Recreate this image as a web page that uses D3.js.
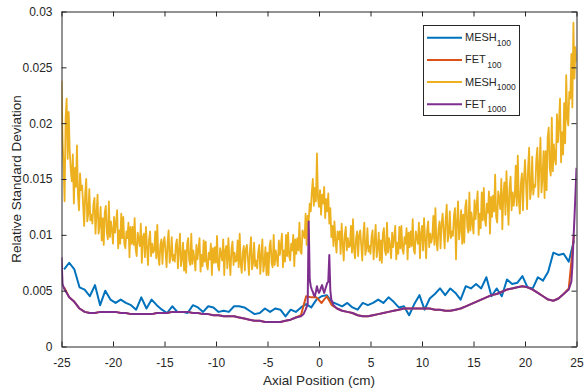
<!DOCTYPE html>
<html><head><meta charset="utf-8">
<script src="https://cdn.jsdelivr.net/npm/d3@7"></script>
<style>
body{margin:0;background:#fff}
svg{display:block}
text{font-family:"Liberation Sans",Arial,sans-serif;fill:#262626}
</style>
</head><body>
<svg id="c" width="584" height="392"></svg>
<script>
// ---- data ----
const xTicks = [-25,-20,-15,-10,-5,0,5,10,15,20,25];
const xTickLabels = ["-25","-20","-15","-10","-5","0","5","10","15","20","25"];
const yTicks = [0,0.005,0.01,0.015,0.02,0.025,0.03];
const yTickLabels = ["0","0.005","0.01","0.015","0.02","0.025","0.03"];
const seriesNames = ["MESH","FET","MESH","FET"];
const seriesSubs = ["100","100","1000","1000"];
const seriesColors = ["#0072BD","#D95319","#EDB120","#7E2F8E"];

// 100-cell grids (cell centres)
const grid100Start = -24.75, grid100Step = 0.5;
const mesh100 = [0.0069,0.0075,0.0069,0.0053,0.0051,0.0045,0.0055,0.0037,0.0050,0.0042,
0.0039,0.0042,0.0039,0.0037,0.0033,0.0044,0.0034,0.0042,0.0037,0.0033,
0.0030,0.0036,0.0031,0.0031,0.0030,0.0037,0.0035,0.0031,0.0036,0.0035,
0.0031,0.0032,0.0031,0.0036,0.0036,0.0035,0.0032,0.0029,0.0030,0.0034,
0.0031,0.0034,0.0033,0.0027,0.0033,0.0031,0.0035,0.0038,0.0035,0.0042,
0.0045,0.0046,0.0040,0.0038,0.0036,0.0039,0.0035,0.0033,0.0039,0.0037,
0.0039,0.0042,0.0039,0.0044,0.0040,0.0035,0.0036,0.0028,0.0038,0.0046,
0.0033,0.0043,0.0047,0.0052,0.0046,0.0052,0.0048,0.0042,0.0054,0.0052,
0.0056,0.0052,0.0062,0.0045,0.0052,0.0045,0.0060,0.0056,0.0057,0.0063,
0.0053,0.0052,0.0062,0.0059,0.0067,0.0084,0.0082,0.0083,0.0076,0.0095];
const fet100 = [0.0053,
0.0044,0.0040,0.0034,0.0031,0.0030,0.0030,0.0031,0.0031,0.0031,0.0031,
0.0030,0.0030,0.0029,0.0029,0.0029,0.0029,0.0029,0.0030,0.0030,0.0030,
0.0031,0.0031,0.0031,0.0031,0.0030,0.0030,0.0029,0.0029,0.0028,0.0028,
0.0027,0.0027,0.0027,0.0026,0.0025,0.0024,0.0023,0.0023,0.0022,0.0022,
0.0022,0.0022,0.0023,0.0024,0.0026,
0.0028,0.0045,0.0044,0.0044,0.0039,0.0045,0.0037,0.0034,
0.0032,0.0031,0.0030,0.0028,0.0027,0.0027,0.0028,0.0029,0.0030,0.0031,
0.0032,0.0033,0.0034,0.0034,0.0034,0.0034,0.0034,0.0034,0.0033,0.0033,
0.0032,0.0032,0.0033,0.0034,0.0036,0.0038,0.0040,0.0042,0.0044,0.0046,
0.0047,0.0049,0.0051,0.0052,0.0053,0.0054,0.0053,0.0051,0.0048,0.0045,
0.0042,0.0041,0.0043,0.0047,
0.0052,0.0099];

const mesh1000Start = -25, mesh1000Step = 0.1;
const mesh1000 = [
0.0238,0.0185,0.0162,0.0130,0.0205,0.0222,0.0168,0.0210,0.0175,0.0158,
0.0148,0.0172,0.0128,0.0160,0.0143,0.0180,0.0135,0.0122,0.0155,0.0140,
0.0144,0.0127,0.0108,0.0137,0.0150,0.0112,0.0119,0.0141,0.0113,0.0118,
0.0110,0.0127,0.0133,0.0101,0.0119,0.0136,0.0101,0.0109,0.0125,0.0095,
0.0115,0.0091,0.0120,0.0126,0.0102,0.0096,0.0130,0.0098,0.0112,0.0104,
0.0092,0.0116,0.0102,0.0111,0.0122,0.0088,0.0104,0.0092,0.0119,0.0097,
0.0116,0.0092,0.0088,0.0103,0.0097,0.0111,0.0080,0.0107,0.0092,0.0107,
0.0091,0.0115,0.0087,0.0081,0.0102,0.0096,0.0090,0.0110,0.0075,0.0098,
0.0101,0.0080,0.0107,0.0089,0.0073,0.0096,0.0103,0.0081,0.0092,0.0084,
0.0086,0.0103,0.0079,0.0109,0.0081,0.0073,0.0091,0.0096,0.0074,0.0093,
0.0098,0.0085,0.0071,0.0093,0.0104,0.0075,0.0081,0.0098,0.0077,0.0082,
0.0076,0.0091,0.0096,0.0070,0.0086,0.0101,0.0072,0.0079,0.0093,0.0068,
0.0086,0.0066,0.0092,0.0097,0.0077,0.0073,0.0101,0.0074,0.0086,0.0079,
0.0068,0.0091,0.0078,0.0087,0.0097,0.0067,0.0082,0.0072,0.0095,0.0076,
0.0094,0.0073,0.0069,0.0084,0.0078,0.0092,0.0064,0.0088,0.0075,0.0089,
0.0075,0.0099,0.0072,0.0068,0.0088,0.0083,0.0077,0.0096,0.0064,0.0086,
0.0090,0.0070,0.0097,0.0079,0.0064,0.0087,0.0094,0.0073,0.0084,0.0076,
0.0077,0.0095,0.0071,0.0101,0.0074,0.0066,0.0084,0.0090,0.0068,0.0087,
0.0091,0.0078,0.0064,0.0087,0.0098,0.0069,0.0075,0.0093,0.0072,0.0077,
0.0070,0.0085,0.0091,0.0065,0.0081,0.0096,0.0067,0.0075,0.0089,0.0064,
0.0084,0.0064,0.0090,0.0095,0.0075,0.0071,0.0100,0.0073,0.0086,0.0079,
0.0072,0.0095,0.0082,0.0091,0.0101,0.0071,0.0086,0.0076,0.0100,0.0081,
0.0102,0.0081,0.0077,0.0092,0.0086,0.0100,0.0072,0.0096,0.0083,0.0097,
0.0086,0.0111,0.0085,0.0083,0.0104,0.0101,0.0097,0.0119,0.0091,0.0117,
0.0112,0.0128,0.0121,0.0138,0.0150,0.0126,0.0142,0.0130,0.0173,0.0133,
0.0125,0.0140,0.0118,0.0136,0.0128,0.0143,0.0115,0.0132,0.0121,0.0137,
0.0110,0.0124,0.0098,0.0108,0.0090,0.0112,0.0095,0.0084,0.0103,0.0096,
0.0103,0.0083,0.0110,0.0092,0.0077,0.0100,0.0107,0.0086,0.0097,0.0089,
0.0090,0.0108,0.0084,0.0114,0.0087,0.0079,0.0097,0.0103,0.0081,0.0100,
0.0104,0.0091,0.0077,0.0100,0.0111,0.0082,0.0088,0.0106,0.0085,0.0090,
0.0083,0.0098,0.0104,0.0078,0.0094,0.0109,0.0080,0.0088,0.0102,0.0077,
0.0095,0.0075,0.0101,0.0106,0.0086,0.0082,0.0111,0.0084,0.0097,0.0090,
0.0079,0.0102,0.0089,0.0098,0.0108,0.0078,0.0093,0.0083,0.0107,0.0088,
0.0108,0.0087,0.0083,0.0098,0.0092,0.0106,0.0078,0.0102,0.0089,0.0103,
0.0090,0.0114,0.0087,0.0083,0.0103,0.0098,0.0092,0.0111,0.0079,0.0101,
0.0108,0.0086,0.0115,0.0096,0.0079,0.0104,0.0112,0.0089,0.0101,0.0093,
0.0098,0.0117,0.0091,0.0124,0.0094,0.0086,0.0105,0.0112,0.0088,0.0109,
0.0119,0.0104,0.0088,0.0114,0.0127,0.0094,0.0101,0.0121,0.0097,0.0103,
0.0099,0.0117,0.0124,0.0078,0.0112,0.0130,0.0096,0.0105,0.0122,0.0092,
0.0118,0.0093,0.0125,0.0131,0.0107,0.0102,0.0138,0.0104,0.0120,0.0111,
0.0101,0.0131,0.0114,0.0126,0.0139,0.0100,0.0119,0.0106,0.0138,0.0113,
0.0142,0.0114,0.0108,0.0128,0.0120,0.0139,0.0101,0.0134,0.0116,0.0135,
0.0121,0.0154,0.0116,0.0111,0.0139,0.0132,0.0123,0.0150,0.0105,0.0136,
0.0147,0.0118,0.0157,0.0131,0.0109,0.0142,0.0152,0.0122,0.0138,0.0126,
0.0135,0.0162,0.0126,0.0171,0.0131,0.0119,0.0146,0.0155,0.0122,0.0150,
0.0167,0.0146,0.0123,0.0160,0.0178,0.0132,0.0141,0.0170,0.0136,0.0145,
0.0143,0.0168,0.0178,0.0134,0.0161,0.0187,0.0138,0.0151,0.0175,0.0133,
0.0175,0.0140,0.0187,0.0196,0.0160,0.0153,0.0205,0.0157,0.0181,0.0168,
0.0163,0.0208,0.0183,0.0200,0.0222,0.0165,0.0192,0.0172,0.0218,0.0182,
0.0243,0.0205,0.0198,0.0228,0.0222,0.0262,0.0214,0.0290,0.0240,0.0268,
0.0255];

// FET 1000 (positions and values)
const fet1000X = [-25,-24.9,-24.75,
-24.25,-23.75,-23.25,-22.75,-22.25,-21.75,-21.25,-20.75,-20.25,-19.75,
-19.25,-18.75,-18.25,-17.75,-17.25,-16.75,-16.25,-15.75,-15.25,-14.75,
-14.25,-13.75,-13.25,-12.75,-12.25,-11.75,-11.25,-10.75,-10.25,-9.75,
-9.25,-8.75,-8.25,-7.75,-7.25,-6.75,-6.25,-5.75,-5.25,-4.75,-4.25,-3.75,
-3.25,-2.75,-2.25,-1.75,-1.5,-1.3,-1.1,
-1.0,-0.9,-0.8,-0.7,-0.6,-0.5,-0.4,-0.3,-0.2,-0.1,0,0.1,0.2,0.3,0.4,0.5,
0.6,0.7,0.8,0.9,1.0,1.1,1.2,1.4,1.75,
2.25,2.75,3.25,3.75,4.25,4.75,5.25,5.75,6.25,6.75,7.25,7.75,8.25,8.75,
9.25,9.75,10.25,10.75,11.25,11.75,12.25,12.75,13.25,13.75,14.25,14.75,
15.25,15.75,16.25,16.75,17.25,17.75,18.25,18.75,19.25,19.75,20.25,20.75,
21.25,21.75,22.25,22.75,23.25,23.75,
24.25,24.5,24.6,24.7,24.8,24.9,25];
const fet1000 = [0.0080,0.0056,0.0052,
0.0044,0.0040,0.0034,0.0031,0.0030,0.0030,0.0031,0.0031,0.0031,0.0031,
0.0030,0.0030,0.0029,0.0029,0.0029,0.0029,0.0029,0.0030,0.0030,0.0030,
0.0031,0.0031,0.0031,0.0031,0.0030,0.0030,0.0029,0.0029,0.0028,0.0028,
0.0027,0.0027,0.0027,0.0026,0.0025,0.0024,0.0023,0.0023,0.0022,0.0022,0.0022,0.0022,
0.0023,0.0024,0.0026,0.0027,0.0029,0.0033,0.0038,
0.0112,0.0060,0.0054,0.0051,0.0049,0.0046,0.0045,0.0049,0.0054,0.0050,0.0048,0.0050,0.0053,0.0055,0.0051,0.0048,
0.0051,0.0054,0.0057,0.0058,0.0082,0.0050,0.0042,0.0037,0.0034,
0.0032,0.0031,0.0030,0.0028,0.0027,0.0027,0.0028,0.0029,0.0030,0.0031,
0.0032,0.0033,0.0034,0.0034,0.0034,0.0034,0.0034,0.0034,0.0033,0.0033,
0.0032,0.0032,0.0033,0.0034,0.0036,0.0038,0.0040,0.0042,0.0044,0.0046,
0.0047,0.0049,0.0051,0.0052,0.0053,0.0054,0.0053,0.0051,0.0048,0.0045,
0.0042,0.0041,0.0043,0.0047,
0.0051,0.0058,0.0072,0.0095,0.0115,0.0137,0.0160];

// ---- drawing ----
const svg = d3.select("#c");
const L = 61.5, R = 576.5, T = 11.5, B = 346.5;
const x = d3.scaleLinear().domain([-25,25]).range([L,R]);
const y = d3.scaleLinear().domain([0,0.03]).range([B,T]);

svg.append("defs").append("clipPath").attr("id","clip")
  .append("rect").attr("x",L).attr("y",T-2).attr("width",R-L).attr("height",B-T+2);

const toPts = (xs, ys) => ys.map((v,i)=>[xs[i], v]);
const grid100X = mesh100.map((_,i)=>grid100Start + i*grid100Step);
const mesh1000X = mesh1000.map((_,i)=>mesh1000Start + i*mesh1000Step);

const series = [
  {pts: toPts(grid100X, mesh100), c: seriesColors[0], w: 2},
  {pts: toPts(grid100X, fet100), c: seriesColors[1], w: 2},
  {pts: toPts(mesh1000X, mesh1000), c: seriesColors[2], w: 1.8},
  {pts: toPts(fet1000X, fet1000), c: seriesColors[3], w: 2}
];
const line = d3.line().x(d=>x(d[0])).y(d=>y(d[1]));
const g = svg.append("g").attr("clip-path","url(#clip)");
series.forEach(s=>{
  g.append("path").attr("d", line(s.pts)).attr("fill","none")
   .attr("stroke", s.c).attr("stroke-width", s.w).attr("stroke-linejoin","round");
});

// axes with inward ticks
const axCol = "#262626";
const xb = d3.axisBottom(x).tickValues(xTicks).tickFormat((d,i)=>xTickLabels[i]).tickSizeInner(-5).tickSizeOuter(0).tickPadding(12);
const xt = d3.axisTop(x).tickValues(xTicks).tickFormat("").tickSizeInner(-5).tickSizeOuter(0);
const yl = d3.axisLeft(y).tickValues(yTicks).tickFormat((d,i)=>yTickLabels[i]).tickSizeInner(-5).tickSizeOuter(0).tickPadding(9);
const yr = d3.axisRight(y).tickValues(yTicks).tickFormat("").tickSizeInner(-5).tickSizeOuter(0);
function style(sel){
  sel.selectAll(".domain").attr("stroke",axCol);
  sel.selectAll(".tick line").attr("stroke",axCol);
  sel.selectAll("text").attr("font-family",'"Liberation Sans",Arial,sans-serif').attr("font-size",12).attr("fill",axCol);
}
svg.append("g").attr("transform",`translate(0,${B})`).call(xb).call(style);
svg.append("g").attr("transform",`translate(0,${T})`).call(xt).call(style);
svg.append("g").attr("transform",`translate(${L},0)`).call(yl).call(style);
svg.append("g").attr("transform",`translate(${R},0)`).call(yr).call(style);

// axis labels
svg.append("text").attr("x",(L+R)/2).attr("y",384.5).attr("text-anchor","middle")
  .attr("font-size",13.5).text("Axial Position (cm)");
svg.append("text").attr("transform",`translate(20.5,${(T+B)/2}) rotate(-90)`).attr("text-anchor","middle")
  .attr("font-size",13.5).text("Relative Standard Deviation");

// legend
const lg = svg.append("g");
lg.append("rect").attr("x",423.5).attr("y",25.5).attr("width",96).attr("height",90)
  .attr("fill","#fff").attr("stroke",axCol).attr("stroke-width",1);
seriesNames.forEach((n,i)=>{
  const yy = 37.7 + i*22.2;
  lg.append("line").attr("x1",427).attr("x2",462).attr("y1",yy).attr("y2",yy)
    .attr("stroke",seriesColors[i]).attr("stroke-width",2);
  const t = lg.append("text").attr("x",465).attr("y",yy+3.5).attr("font-size",11);
  t.append("tspan").text(n);
  t.append("tspan").attr("dy",4.5).attr("dx", n==="FET"?1.5:0).attr("font-size",8.5).text(seriesSubs[i]);
});
</script>
</body></html>
